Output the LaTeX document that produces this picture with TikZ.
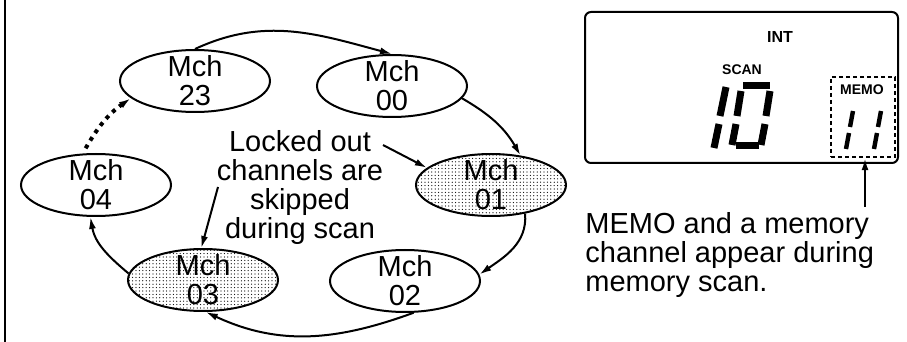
\documentclass[tikz,border=0pt]{standalone}
\usepackage{fontspec}
\setmainfont{Liberation Sans}
\usetikzlibrary{shapes.geometric, arrows.meta, patterns.meta}

\begin{document}
\begin{tikzpicture}[x=0.5pt, y=-0.5pt,
    channel/.style = {ellipse, draw, line width=1pt, minimum width=75pt, minimum height=31pt, inner sep=-3pt, align=center},
    skipped/.style = {channel, pattern={Dots[distance=1.7pt, radius=0.32pt]}},
    link/.style = {line width=1pt, -{Latex[length=6pt, width=3.5pt]}},
    segment/.style = {line width=3.5pt},
    legend/.style = {font=\fontsize{7pt}{7}\selectfont\bfseries, inner sep=0pt},
    font=\fontsize{14.5pt}{14.5}\selectfont]
  \useasboundingbox (0, 0) rectangle (907, 342);
  \draw [line width=1pt] (5, 0) -- (5, 342);

  % Channels.
  \node at (195, 81) [channel, name=Mch23] {Mch\\23};
  \node at (392, 86) [channel, name=Mch00] {Mch\\00};
  \node at (491, 185) [skipped, name=Mch01] {Mch\\01};
  \node at (405, 281) [channel, name=Mch02] {Mch\\02};
  \node at (203, 280) [skipped, name=Mch03] {Mch\\03};
  \node at (96, 185) [channel, name=Mch04] {Mch\\04};

  % Note on locked out channels.
  \node at (300, 130) [anchor=north, align=center, inner sep=0pt, name=LockedNote]
        {Locked out\\channels are\\skipped\\during scan};
  \coordinate (lockedA) at (383, 145);
  \coordinate (lockedB) at (218, 187);

  % Scan order.
  \draw [link] (Mch23.north)
               to [out=25, in=165]
               (Mch00.north);
  \draw [link] (Mch00.-10)
               to [out=-30, in=120]
               (Mch01.45);
  \draw [link] (Mch01.-40)
               to [out=-85, in=35]
               (Mch02.5);
  \draw [link] (Mch02.-75)
               to [out=-160, in=-25]
               (Mch03.-85);
  \draw [link] (Mch03.175)
               to [out=140, in=-80]
               (Mch04.-100);
  \draw [link, line width=2pt, dash pattern=on 2pt off 2.5pt, shorten <=3pt] (Mch04.113)
               to [out=60, in=-145]
               (Mch23.195);
  \draw [link] (lockedA) to (Mch01.165);
  \draw [link] (lockedB) to (Mch03.93);

  % Display.
  \node at (741.5, 87.5) [draw, line width=1pt, rounded corners=3pt, minimum width=156.5pt, minimum height=75.5pt, name=Display] {};
  \node at (780, 37) [legend, font=\fontsize{8pt}{8}\selectfont\bfseries, name=IntLabel] {INT};
  \node at (742, 70) [legend, name=ScanLabel] {SCAN};
  \node at (863, 117) [draw, line width=1.2pt, dash pattern=on 2pt off 1.5pt, minimum width=32pt, minimum height=40pt, name=MemoBox] {};
  \node at (862, 90) [legend, name=MemoLabel] {MEMO};

  % Channel digits.
  \draw [segment] (726, 87) -- (720, 116);
  \draw [segment] (719, 124) -- (714, 148);
  \draw [segment] (743, 86) -- (770, 86);
  \draw [segment] (741, 91) -- (737, 116);
  \draw [segment] (736, 124) -- (732, 145);
  \draw [segment] (770, 91) -- (766, 116);
  \draw [segment] (765, 124) -- (761, 145);
  \draw [segment] (736, 146) -- (759, 146);
  \draw [segment, line width=2.2pt] (853, 111) -- (850, 127);
  \draw [segment, line width=2.2pt] (849, 133) -- (846, 149);
  \draw [segment, line width=2.2pt] (881, 111) -- (878, 127);
  \draw [segment, line width=2.2pt] (877, 133) -- (874, 149);

  % Memory scan note.
  \coordinate (memoTail) at (865, 207);
  \draw [link] (memoTail)
               to
               (memoTail |- MemoBox.south);
  \node at (585, 212) [anchor=north west, align=left, inner sep=0pt, name=MemoNote]
        {MEMO and a memory\\channel appear during\\memory scan.};
\end{tikzpicture}
\end{document}
